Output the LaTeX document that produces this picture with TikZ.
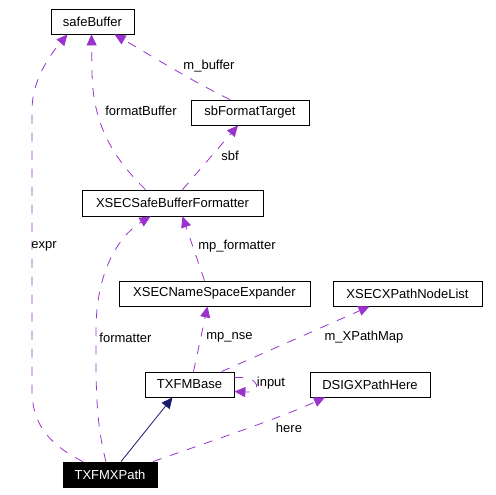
\documentclass[tikz,border=0pt]{standalone}
\usepackage{fontspec}
\setmainfont{Liberation Sans}
\usepackage{tikz}
\usetikzlibrary{arrows.meta, positioning}
\definecolor{usecolor}{RGB}{154,50,205}
\definecolor{inhcolor}{RGB}{25,25,112}

\begin{document}
\begin{tikzpicture}[
    x=1pt, y=-1pt,
    cls/.style={draw, line width=0.8pt, fill=white, minimum height=25pt, inner sep=0pt, font=\fontsize{13}{15}\selectfont},
    focus/.style={cls, fill=black, text=white},
    usage/.style={-{Triangle[length=11pt, width=10pt]}, usecolor, line width=0.8pt, dash pattern=on 9pt off 9pt},
    inherit/.style={-{Triangle[length=11pt, width=10pt]}, inhcolor, line width=0.8pt},
    lbl/.style={font=\fontsize{13}{15}\selectfont, inner sep=0pt}
]
    \useasboundingbox (0,0) rectangle (496,495);

    % Classes
    \node[cls, minimum width=83pt] (sb) at (92.5,21.5) {safeBuffer};
    \node[cls, minimum width=118pt] (sbt) at (250,112.5) {sbFormatTarget};
    \node[cls, minimum width=181pt, minimum height=26pt] (fmt) at (172.5,203) {XSECSafeBufferFormatter};
    \node[cls, minimum width=191pt] (nse) at (214.5,293.5) {XSECNameSpaceExpander};
    \node[cls, minimum width=149pt] (nodelist) at (407.5,293.5) {XSECXPathNodeList};
    \node[cls, minimum width=89pt] (base) at (189.5,384.5) {TXFMBase};
    \node[cls, minimum width=120pt] (here) at (370,384.5) {DSIGXPathHere};
    \node[focus, minimum width=94pt] (xpath) at (110,474.5) {TXFMXPath};

    % Inheritance
    \draw[inherit] ([xshift=11pt]xpath.north) -- ([xshift=-17pt]base.south);

    % Members
    \draw[usage] ([xshift=-27pt]xpath.north) .. controls (50,445) and (32,425) .. (32,390)
        -- (32,110) .. controls (32,80) and (50,55) .. ([xshift=-25pt]sb.south);
    \draw[usage] ([xshift=-27pt]fmt.north) .. controls (110,155) and (92,120) .. (92,70)
        -- ([xshift=-1pt]sb.south);
    \draw[usage] ([xshift=-20pt]sbt.north) .. controls (190,80) and (150,55) .. ([xshift=22pt]sb.south);
    \draw[usage] ([xshift=10pt]fmt.north) -- ([xshift=-12pt]sbt.south);
    \draw[usage] ([xshift=-4pt]xpath.north) .. controls (95,420) and (96,380) .. (96,330)
        .. controls (96,270) and (120,235) .. ([xshift=-22pt]fmt.south);
    \draw[usage] ([xshift=-10pt]nse.north) -- ([xshift=10pt]fmt.south);
    \draw[usage] ([xshift=4pt]base.north) -- ([xshift=-7pt]nse.south);
    \draw[usage] ([xshift=32pt]base.north) -- ([xshift=-38pt]nodelist.south);
    \draw[usage] ([yshift=7pt]base.east) .. controls (262,376) and (262,393) .. ([yshift=-7pt]base.east);
    \draw[usage] ([xshift=43pt]xpath.north) .. controls (220,438) and (280,418) .. ([xshift=-45pt]here.south);

    % Labels
    \node[lbl] (l1) at (44,246) {expr};
    \node[lbl] (l2) at (141,111) {formatBuffer};
    \node[lbl] (l3) at (209,66) {m\_buffer};
    \node[lbl] (l4) at (230,156) {sbf};
    \node[lbl] (l5) at (125.5,337.5) {formatter};
    \node[lbl] (l6) at (237,246) {mp\_formatter};
    \node[lbl] (l7) at (229.5,337.5) {mp\_nse};
    \node[lbl] (l8) at (364,337.5) {m\_XPathMap};
    \node[lbl] (l9) at (271,383) {input};
    \node[lbl] (l10) at (289,428) {here};
\end{tikzpicture}
\end{document}
